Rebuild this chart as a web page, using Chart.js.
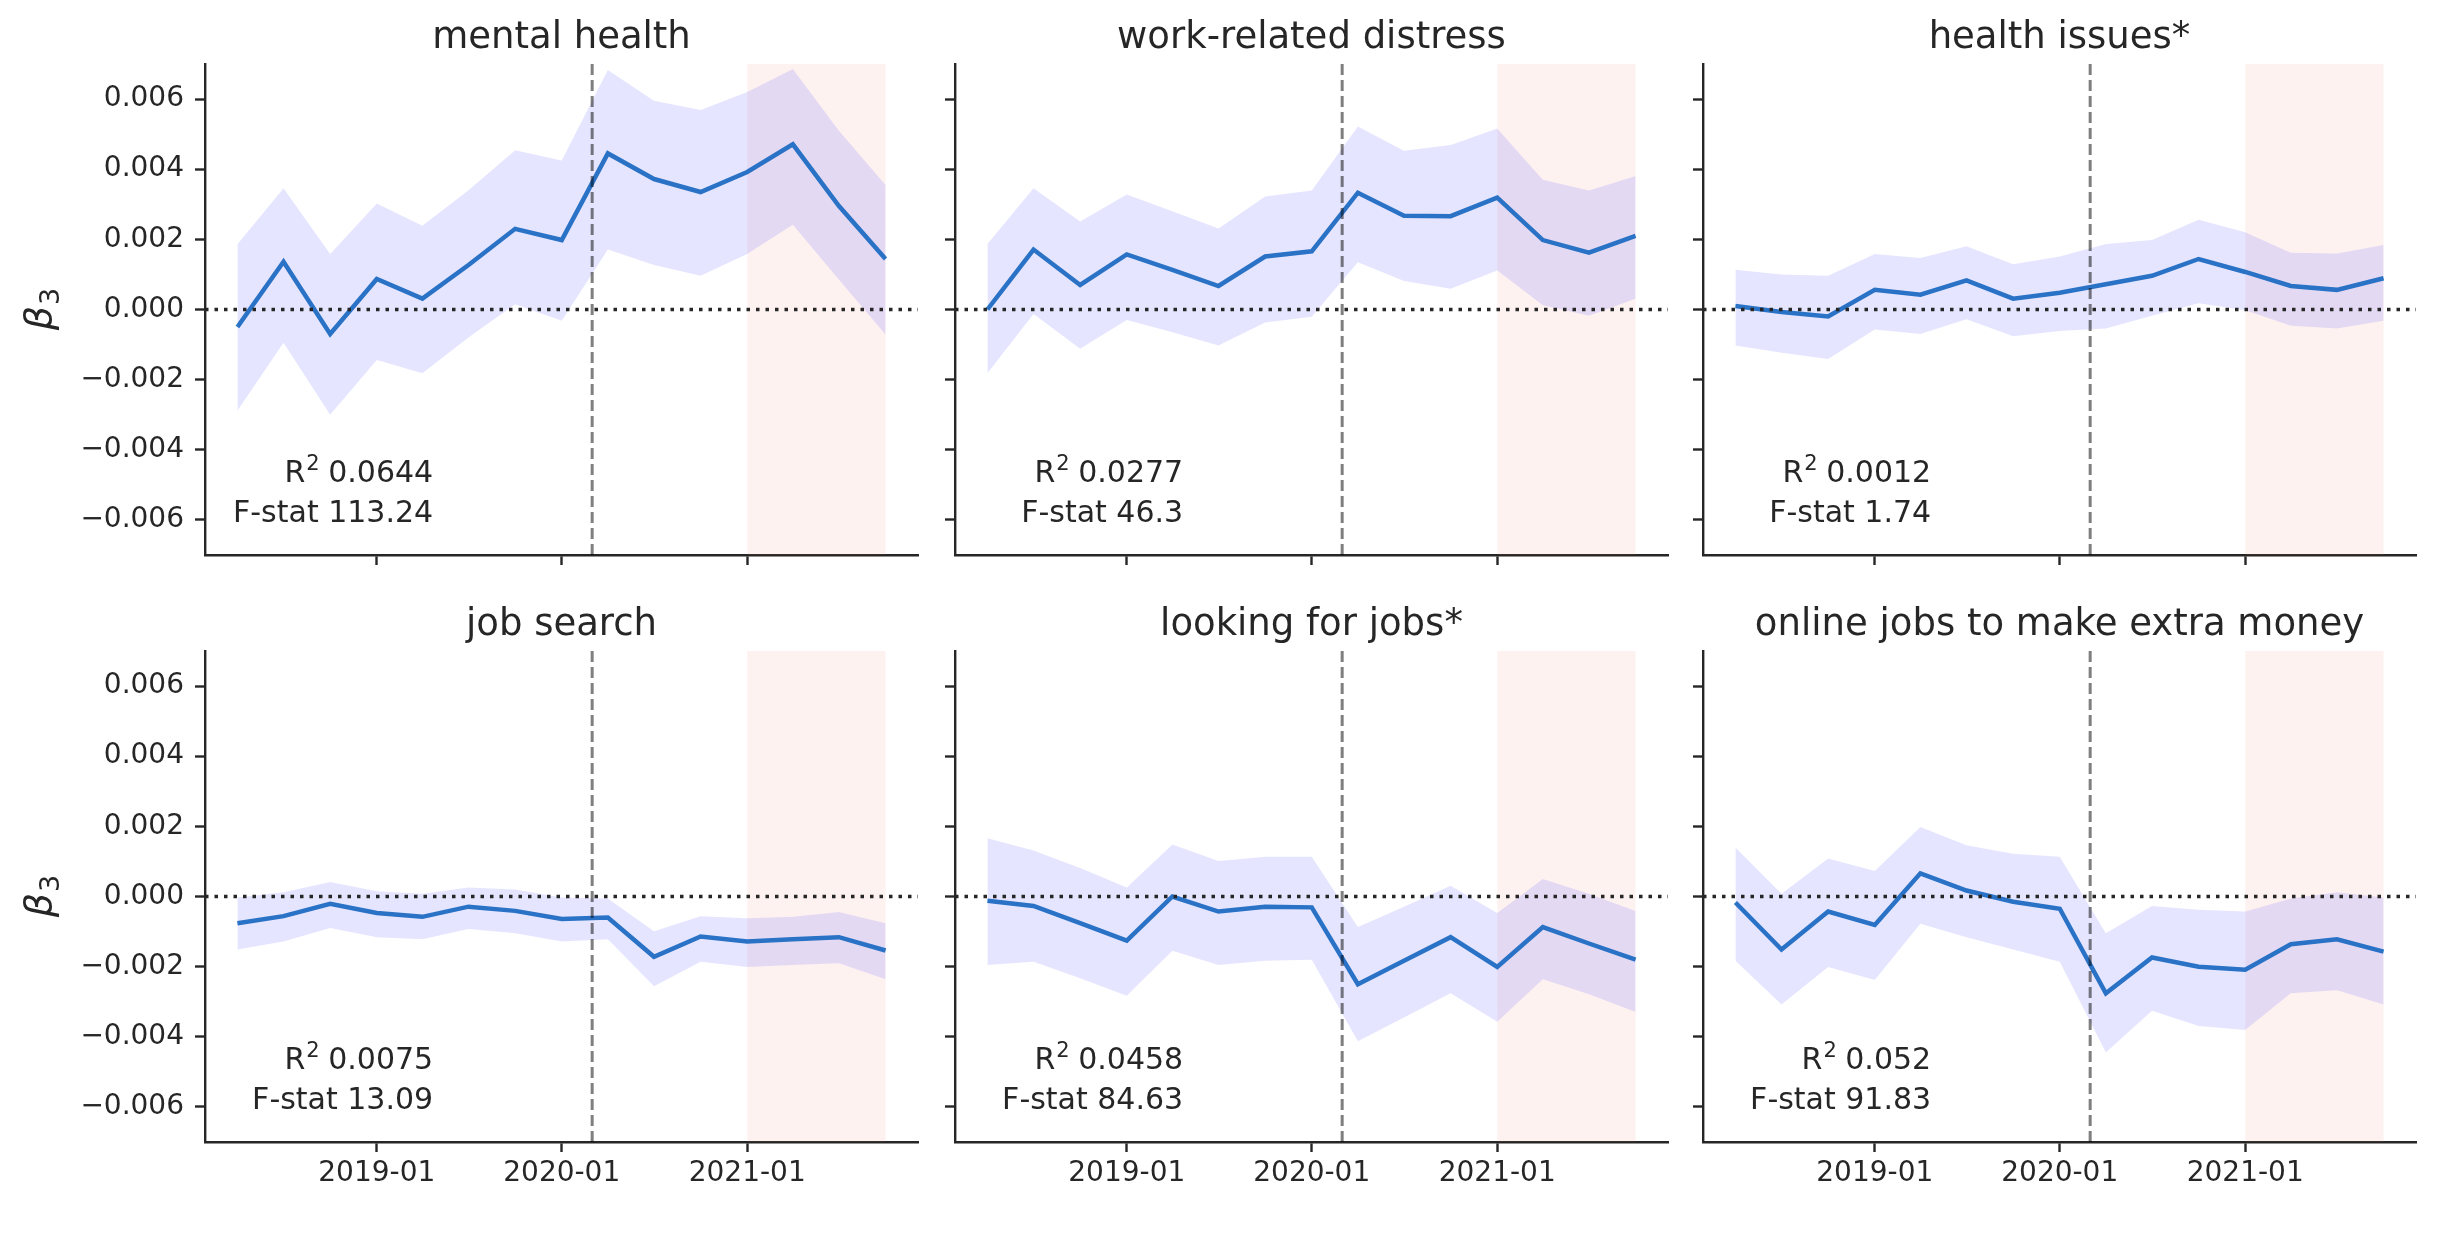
<!DOCTYPE html>
<html>
<head>
<meta charset="utf-8">
<script src="https://cdn.jsdelivr.net/npm/chart.js@4.4.0/dist/chart.umd.min.js"></script>
<style>
  body { margin: 0; background: #fff; width: 2448px; height: 1240px; position: relative; overflow: hidden; }
  canvas { position: absolute; }
</style>
</head>
<body>
<script>
'use strict';

// quarterly observations
let quarters = ['2018-04', '2018-07', '2018-10', '2019-01', '2019-04', '2019-07', '2019-10',
  '2020-01', '2020-04', '2020-07', '2020-10', '2021-01', '2021-04', '2021-07', '2021-10'];

let panelTitles = ['mental health', 'work-related distress', 'health issues*',
  'job search', 'looking for jobs*', 'online jobs to make extra money'];
let rSquared = ['0.0644', '0.0277', '0.0012', '0.0075', '0.0458', '0.052'];
let fStats = ['113.24', '46.3', '1.74', '13.09', '84.63', '91.83'];

let yTicks = [-0.006, -0.004, -0.002, 0, 0.002, 0.004, 0.006];
let xTickLabels = ['2019-01', '2020-01', '2021-01'];
let covidStart = '2020-03';
let shadeStart = '2021-01';
let shadeEnd = '2021-10';

// beta_3 estimates with confidence band
let mentalHealth = [-0.0005, 0.00136, -0.0007, 0.00087, 0.00031, 0.00127, 0.0023, 0.00198, 0.00445, 0.00372, 0.00335, 0.00392, 0.00471, 0.00295, 0.00144];
let mentalHealthLow = [-0.00289, -0.00095, -0.003, -0.00144, -0.00182, -0.0008, 0.00015, -0.00032, 0.00171, 0.00127, 0.00096, 0.00158, 0.00242, 0.00085, -0.00072];
let mentalHealthHigh = [0.00186, 0.00346, 0.00158, 0.00302, 0.00239, 0.0034, 0.00454, 0.00425, 0.00683, 0.00595, 0.00569, 0.0062, 0.00686, 0.0051, 0.00355];

let workDistress = [0.0, 0.00171, 0.0007, 0.00157, 0.00113, 0.00067, 0.00151, 0.00166, 0.00333, 0.00267, 0.00266, 0.00319, 0.00198, 0.00162, 0.0021];
let workDistressLow = [-0.00182, -0.00013, -0.00112, -0.0003, -0.00065, -0.00103, -0.00037, -0.00021, 0.00135, 0.00081, 0.00059, 0.00111, 0.00012, -0.00018, 0.00031];
let workDistressHigh = [0.00187, 0.00346, 0.00251, 0.00328, 0.0028, 0.00231, 0.00322, 0.00339, 0.00522, 0.00453, 0.00469, 0.00516, 0.0037, 0.00339, 0.00381];

let healthIssues = [0.0001, -0.00007, -0.0002, 0.00056, 0.00042, 0.00083, 0.00031, 0.00048, 0.00072, 0.00096, 0.00144, 0.00107, 0.00067, 0.00056, 0.00089];
let healthIssuesLow = [-0.00103, -0.00123, -0.00141, -0.00057, -0.0007, -0.00028, -0.00076, -0.00061, -0.00054, -0.00018, 0.00018, -0.00002, -0.00046, -0.00054, -0.00032];
let healthIssuesHigh = [0.00113, 0.001, 0.00096, 0.00158, 0.00147, 0.0018, 0.00129, 0.00151, 0.00187, 0.00198, 0.00256, 0.0022, 0.00162, 0.0016, 0.00184];

let jobSearch = [-0.00076, -0.00056, -0.00021, -0.00047, -0.00058, -0.00029, -0.00041, -0.00064, -0.0006, -0.00172, -0.00114, -0.00128, -0.00122, -0.00116, -0.00154];
let jobSearchLow = [-0.00151, -0.00128, -0.0009, -0.00116, -0.00122, -0.00093, -0.00105, -0.00128, -0.00122, -0.00256, -0.00186, -0.00201, -0.00195, -0.0019, -0.00236];
let jobSearchHigh = [-0.00003, 0.00012, 0.00041, 0.00015, 0.00008, 0.00026, 0.0002, -0.00003, -0.00006, -0.00099, -0.00056, -0.00062, -0.00058, -0.00044, -0.00076];

let lookingForJobs = [-0.00012, -0.00027, -0.00076, -0.00126, 0.0, -0.00043, -0.00029, -0.00031, -0.0025, -0.00183, -0.00116, -0.00201, -0.00087, -0.00134, -0.0018];
let lookingForJobsLow = [-0.00195, -0.00186, -0.00233, -0.00283, -0.00155, -0.00195, -0.00183, -0.0018, -0.00413, -0.00345, -0.00276, -0.00357, -0.00236, -0.00279, -0.00329];
let lookingForJobsHigh = [0.00166, 0.00131, 0.00081, 0.00026, 0.00148, 0.00101, 0.00113, 0.00113, -0.00087, -0.00029, 0.00031, -0.00047, 0.0005, 0.00008, -0.00041];

let onlineJobs = [-0.00017, -0.00151, -0.00043, -0.00081, 0.00066, 0.00017, -0.00015, -0.00035, -0.00276, -0.00174, -0.002, -0.00209, -0.00136, -0.00122, -0.00157];
let onlineJobsLow = [-0.00183, -0.00308, -0.00201, -0.00238, -0.00078, -0.00116, -0.00151, -0.00186, -0.00445, -0.00326, -0.00369, -0.00381, -0.00276, -0.00267, -0.00308];
let onlineJobsHigh = [0.0014, 0.00008, 0.00108, 0.00073, 0.00198, 0.00146, 0.00122, 0.00113, -0.00105, -0.00027, -0.00038, -0.00043, -0.00006, 0.00012, -0.00003];

let betas = [mentalHealth, workDistress, healthIssues, jobSearch, lookingForJobs, onlineJobs];
let lows = [mentalHealthLow, workDistressLow, healthIssuesLow, jobSearchLow, lookingForJobsLow, onlineJobsLow];
let highs = [mentalHealthHigh, workDistressHigh, healthIssuesHigh, jobSearchHigh, lookingForJobsHigh, onlineJobsHigh];

// layout of the 2x3 grid (page pixels)
let colLeft = [205, 955, 1703];
let rowTop = [64, 651];
let plotW = 713;
let plotH = 491;
let padL = 205;
let padT = 64;
let padR = 12;
let padB = 90;

let ink = '#262626';
let fontFamily = "'DejaVu Sans', sans-serif";
Chart.defaults.font.family = fontFamily;

// days since 2018-01-01, so the x axis is a real time axis like matplotlib's
function toDays(s) {
  let parts = s.split('-').map(Number);
  return (Date.UTC(parts[0], parts[1] - 1, 1) - Date.UTC(2018, 0, 1)) / 86400000;
}

let xs = quarters.map(toDays);
let xSpan = xs[xs.length - 1] - xs[0];
let xMin = xs[0] - 0.05 * xSpan;
let xMax = xs[xs.length - 1] + 0.05 * xSpan;

function fmtY(v) {
  return v.toFixed(3).replace('-', '\u2212');
}

function toPoints(arr) {
  return arr.map((v, i) => ({ x: xs[i], y: v }));
}

function makePlugin(idx, col, row) {
  return {
    id: 'decor' + idx,
    beforeDatasetsDraw(chart) {
      let ctx = chart.ctx;
      let a = chart.chartArea;
      let x = chart.scales.x;
      let x0 = x.getPixelForValue(toDays(shadeStart));
      let x1 = x.getPixelForValue(toDays(shadeEnd));
      ctx.save();
      ctx.fillStyle = 'rgba(250, 128, 114, 0.1)';
      ctx.fillRect(x0, a.top, x1 - x0, a.bottom - a.top);
      ctx.restore();
    },
    afterDatasetsDraw(chart) {
      let ctx = chart.ctx;
      let a = chart.chartArea;
      let y0 = chart.scales.y.getPixelForValue(0);
      let xc = chart.scales.x.getPixelForValue(toDays(covidStart));
      ctx.save();
      // zero line
      ctx.strokeStyle = ink;
      ctx.lineWidth = 3.5;
      ctx.setLineDash([3.5, 6]);
      ctx.beginPath();
      ctx.moveTo(a.left, y0);
      ctx.lineTo(a.right, y0);
      ctx.stroke();
      // lockdown line
      ctx.strokeStyle = 'rgba(0, 0, 0, 0.5)';
      ctx.lineWidth = 3;
      ctx.setLineDash([11, 5]);
      ctx.beginPath();
      ctx.moveTo(xc, a.top);
      ctx.lineTo(xc, a.bottom);
      ctx.stroke();
      ctx.restore();
    },
    afterDraw(chart) {
      let ctx = chart.ctx;
      let a = chart.chartArea;
      ctx.save();
      ctx.fillStyle = ink;
      // title
      ctx.font = '37px ' + fontFamily;
      ctx.textAlign = 'center';
      ctx.textBaseline = 'alphabetic';
      ctx.fillText(panelTitles[idx], (a.left + a.right) / 2, a.top - 16);
      // fit stats, right aligned
      let tx = a.left + 0.32 * (a.right - a.left);
      ctx.textAlign = 'left';
      ctx.font = '30px ' + fontFamily;
      let rest = ' ' + rSquared[idx];
      let wR = ctx.measureText('R').width;
      let wRest = ctx.measureText(rest).width;
      ctx.font = '21px ' + fontFamily;
      let w2 = ctx.measureText('2').width;
      let sx = tx - wRest - w2 - wR;
      let by = a.bottom - 73;
      ctx.font = '30px ' + fontFamily;
      ctx.fillText('R', sx, by);
      ctx.fillText(rest, sx + wR + w2, by);
      ctx.font = '21px ' + fontFamily;
      ctx.fillText('2', sx + wR + 1, by - 12);
      ctx.font = '30px ' + fontFamily;
      ctx.textAlign = 'right';
      ctx.fillText('F-stat ' + fStats[idx], tx, a.bottom - 33);
      // y label
      if (col === 0) {
        let yc = chart.scales.y.getPixelForValue(0);
        ctx.translate(43, yc);
        ctx.rotate(-Math.PI / 2);
        ctx.textAlign = 'left';
        ctx.textBaseline = 'middle';
        ctx.font = 'italic 38px ' + fontFamily;
        let wb = ctx.measureText('\u03b2').width;
        ctx.font = '27px ' + fontFamily;
        let w3 = ctx.measureText('3').width;
        let start = -(wb + w3) / 2;
        ctx.font = 'italic 38px ' + fontFamily;
        ctx.fillText('\u03b2', start, -2);
        ctx.font = '27px ' + fontFamily;
        ctx.fillText('3', start + wb + 1, 9);
      }
      ctx.restore();
    }
  };
}

for (let i = 0; i < 6; i++) {
  let col = i % 3;
  let row = Math.floor(i / 3);
  let canvas = document.createElement('canvas');
  let w = padL + plotW + padR;
  let h = padT + plotH + padB;
  canvas.width = w;
  canvas.height = h;
  canvas.style.width = w + 'px';
  canvas.style.height = h + 'px';
  canvas.style.left = (colLeft[col] - padL) + 'px';
  canvas.style.top = (rowTop[row] - padT) + 'px';
  document.body.appendChild(canvas);

  new Chart(canvas.getContext('2d'), {
    type: 'line',
    data: {
      datasets: [
        {
          data: toPoints(highs[i]),
          borderColor: 'transparent',
          borderWidth: 1,
          pointRadius: 0,
          backgroundColor: 'rgba(0, 0, 255, 0.1)',
          fill: '+1'
        },
        {
          data: toPoints(lows[i]),
          borderColor: 'transparent',
          borderWidth: 1,
          pointRadius: 0,
          fill: false
        },
        {
          data: toPoints(betas[i]),
          borderColor: '#2f7fbf',
          borderWidth: 4.5,
          pointRadius: 0,
          fill: false,
          tension: 0
        }
      ]
    },
    options: {
      responsive: false,
      animation: false,
      devicePixelRatio: 1,
      layout: { padding: { top: padT, right: padR, left: 0, bottom: 0 } },
      plugins: { legend: { display: false }, tooltip: { enabled: false }, title: { display: false } },
      scales: {
        x: {
          type: 'linear',
          min: xMin,
          max: xMax,
          afterBuildTicks: (s) => { s.ticks = xTickLabels.map((t) => ({ value: toDays(t) })); },
          afterFit: (s) => { s.height = padB; },
          grid: { drawOnChartArea: false, drawTicks: true, tickLength: 10, tickWidth: 2.4, tickColor: ink },
          border: { display: true, color: ink, width: 2.4 },
          ticks: {
            color: ink,
            font: { size: 28 },
            padding: 5,
            maxRotation: 0,
            autoSkip: false,
            callback: (v, k) => (row === 1 ? xTickLabels[k] : '')
          }
        },
        y: {
          min: -0.007,
          max: 0.007,
          afterBuildTicks: (s) => { s.ticks = yTicks.map((t) => ({ value: t })); },
          afterFit: (s) => { s.width = padL; },
          grid: { drawOnChartArea: false, drawTicks: true, tickLength: 10, tickWidth: 2.4, tickColor: ink },
          border: { display: true, color: ink, width: 2.4 },
          ticks: {
            color: ink,
            font: { size: 28 },
            padding: 11,
            autoSkip: false,
            callback: (v) => (col === 0 ? fmtY(v) : '')
          }
        }
      }
    },
    plugins: [makePlugin(i, col, row)]
  });
}
</script>
</body>
</html>
